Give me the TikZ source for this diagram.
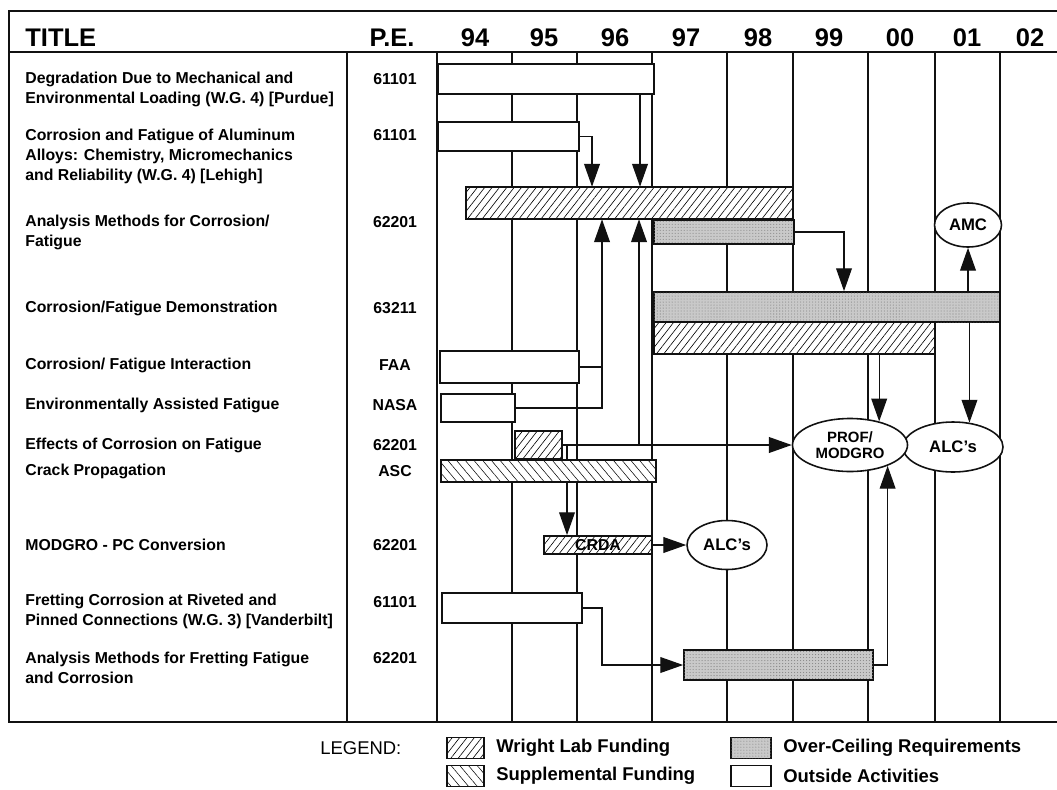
\documentclass[tikz,border=0pt]{standalone}
\usepackage{fontspec}
\setmainfont{Liberation Sans}
\usetikzlibrary{arrows.meta,shapes.geometric,patterns.meta}
\definecolor{inkblack}{HTML}{111111}
\definecolor{ceilgray}{HTML}{C9C9C9}

\begin{document}
\begin{tikzpicture}[x=0.2mm, y=-0.2mm,
  gridline/.style={inkblack, line width=0.8pt},
  timebar/.style={rectangle, draw=inkblack, line width=1pt, inner sep=0pt},
  outside/.style={timebar, fill=white},
  wlab/.style={timebar, preaction={fill=white}, pattern={Lines[angle=52,distance=3.3pt,line width=0.35pt]}},
  supp/.style={timebar, preaction={fill=white}, pattern={Lines[angle=-50,distance=3.8pt,line width=0.3pt]}},
  ceiling/.style={timebar, fill=ceilgray, postaction={pattern={Dots[distance=1.7pt,radius=0.3pt]}, pattern color=black!50}},
  bubble/.style={ellipse, draw=inkblack, line width=0.9pt, fill=white, inner sep=0pt, align=center, font=\fontsize{9.5}{9.5}\selectfont\bfseries},
  link/.style={inkblack, line width=0.7pt, -{Triangle[length=13pt,width=9pt]}},
  plainlink/.style={inkblack, line width=0.7pt},
  head/.style={inner sep=0pt, font=\fontsize{14.5}{16}\selectfont\bfseries},
  rowtext/.style={anchor=west, align=left, inner sep=0pt, font=\fontsize{9}{11.4}\selectfont\bfseries},
  petext/.style={inner sep=0pt, font=\fontsize{9}{11}\selectfont\bfseries},
  legtext/.style={anchor=west, inner sep=0pt, font=\fontsize{10.5}{12}\selectfont\bfseries}]
  \useasboundingbox (0,0) rectangle (1057,789);

  % frame and year grid
  \draw[inkblack, line width=1.2pt] (1057,11) -- (9,11) -- (9,722) -- (1057,722);
  \draw[inkblack, line width=1.2pt] (9,52) -- (1057,52);
  \draw[gridline] (347,52) -- (347,722) (437,52) -- (437,722) (512,52) -- (512,722)
    (577,52) -- (577,722) (652,52) -- (652,722) (727,52) -- (727,722)
    (793,52) -- (793,722) (868,52) -- (868,722) (935,52) -- (935,722)
    (1000,52) -- (1000,722);

  % header
  \node[head, anchor=west] (htitle) at (25,38) {TITLE};
  \node[head] (hpe) at (392,38) {P.E.};
  \node[head] (h94) at (475,38) {94};
  \node[head] (h95) at (544,38) {95};
  \node[head] (h96) at (615,38) {96};
  \node[head] (h97) at (686,38) {97};
  \node[head] (h98) at (758,38) {98};
  \node[head] (h99) at (829,38) {99};
  \node[head] (h00) at (900,38) {00};
  \node[head] (h01) at (967,38) {01};
  \node[head] (h02) at (1030,38) {02};

  % titles and program elements
  \node[rowtext] (t-deg) at (25,89) {Degradation Due to Mechanical and\\Environmental Loading (W.G. 4) [Purdue]};
  \node[rowtext] (t-alu) at (25,156) {Corrosion and Fatigue of Aluminum\\Alloys: Chemistry, Micromechanics\\and Reliability (W.G. 4) [Lehigh]};
  \node[rowtext] (t-anacf) at (25,232) {Analysis Methods for Corrosion/\\Fatigue};
  \node[rowtext] (t-demo) at (25,308) {Corrosion/Fatigue Demonstration};
  \node[rowtext] (t-faa) at (25,365) {Corrosion/ Fatigue Interaction};
  \node[rowtext] (t-nasa) at (25,405) {Environmentally Assisted Fatigue};
  \node[rowtext] (t-effect) at (25,445) {Effects of Corrosion on Fatigue};
  \node[rowtext] (t-crack) at (25,471) {Crack Propagation};
  \node[rowtext] (t-modgro) at (25,545) {MODGRO - PC Conversion};
  \node[rowtext] (t-fret) at (25,611) {Fretting Corrosion at Riveted and\\Pinned Connections (W.G. 3) [Vanderbilt]};
  \node[rowtext] (t-fretfat) at (25,668) {Analysis Methods for Fretting Fatigue\\and Corrosion};

  \node[petext] (p-deg) at (395,79) {61101};
  \node[petext] (p-alu) at (395,135) {61101};
  \node[petext] (p-anacf) at (395,222) {62201};
  \node[petext] (p-demo) at (395,308) {63211};
  \node[petext] (p-faa) at (395,365) {FAA};
  \node[petext] (p-nasa) at (395,405) {NASA};
  \node[petext] (p-effect) at (395,445) {62201};
  \node[petext] (p-crack) at (395,471) {ASC};
  \node[petext] (p-modgro) at (395,545) {62201};
  \node[petext] (p-fret) at (395,602) {61101};
  \node[petext] (p-fretfat) at (395,658) {62201};

  % schedule bars
  \node[outside, minimum width=43.2mm, minimum height=6mm] (deg) at (546,79) {};
  \node[outside, minimum width=28.2mm, minimum height=5.8mm] (alu) at (508.5,136.5) {};
  \node[wlab, minimum width=65.4mm, minimum height=6.4mm] (anacf) at (629.5,203) {};
  \node[ceiling, minimum width=28mm, minimum height=4.8mm] (anaoc) at (724,232) {};
  \node[ceiling, minimum width=69.2mm, minimum height=6mm] (demooc) at (827,307) {};
  \node[wlab, minimum width=56.2mm, minimum height=6.4mm] (demowl) at (794.5,338) {};
  \node[outside, minimum width=27.8mm, minimum height=6.4mm] (faa) at (509.5,367) {};
  \node[outside, minimum width=14.8mm, minimum height=5.6mm] (nasa) at (478,408) {};
  \node[wlab, minimum width=9.4mm, minimum height=5.6mm] (effect) at (538.5,445) {};
  \node[supp, minimum width=43mm, minimum height=4.4mm] (crack) at (548.5,471) {};
  \node[wlab, minimum width=21.6mm, minimum height=3.6mm, font=\fontsize{9}{9}\selectfont\bfseries] (crda) at (598,545) {CRDA};
  \node[outside, minimum width=28mm, minimum height=6mm] (fret) at (512,608) {};
  \node[ceiling, minimum width=37.8mm, minimum height=6mm] (fretoc) at (778.5,665) {};

  % transitions
  \node[bubble, minimum width=13.4mm, minimum height=8.8mm] (amc) at (968,225) {AMC};
  \node[bubble, minimum width=20mm, minimum height=10mm] (alcup) at (953,447) {ALC's};
  \node[bubble, minimum width=23mm, minimum height=10.6mm, font=\fontsize{8.5}{9}\selectfont\bfseries] (prof) at (850,445) {PROF/\\MODGRO};
  \node[bubble, minimum width=16mm, minimum height=9.8mm] (alclow) at (727,545) {ALC's};

  \draw[link] (alu.east) -| (592,0 |- anacf.north);
  \draw[link] (640,0 |- deg.south) -- (640,0 |- anacf.north);
  \draw[link] (nasa.east) -| (602,0 |- anacf.south);
  \draw[plainlink] (faa.east) -- (602,0 |- faa.east);
  \draw[link] (effect.east) -- (prof.west);
  \draw[link] (639,0 |- effect.east) -- (639,0 |- anacf.south);
  \draw[plainlink] (567,0 |- effect.east) -- (567,0 |- crack.north);
  \draw[link] (567,0 |- crack.south) -- (567,0 |- crda.north);
  \draw[link] (anaoc.east) -| (844,0 |- demooc.north);
  \draw[link] (amc.south |- demooc.north) -- (amc.south);
  \draw[link] (prof.39 |- demowl.south) -- (prof.39);
  \draw[link] (alcup.56 |- demooc.south) -- (alcup.56);
  \draw[link] (fretoc.east) -| (prof.-29);
  \draw[link] (crda.east) -- (alclow.west);
  \draw[link] (fret.east) -| (602,0 |- fretoc.west) -- (fretoc.west);

  % legend
  \node[legtext, font=\fontsize{10.5}{12}\selectfont] (legend) at (320,748) {LEGEND:};
  \node[wlab, line width=0.8pt, minimum width=7.4mm, minimum height=4.2mm] (lg-wlab) at (465.5,748) {};
  \node[legtext] (lt-wlab) at (496,748) {Wright Lab Funding};
  \node[supp, line width=0.8pt, minimum width=7.4mm, minimum height=4.2mm] (lg-supp) at (465.5,776) {};
  \node[legtext] (lt-supp) at (496,776) {Supplemental Funding};
  \node[ceiling, line width=0.8pt, minimum width=8mm, minimum height=4.2mm] (lg-ceil) at (751,748) {};
  \node[legtext] (lt-ceil) at (783,748) {Over-Ceiling Requirements};
  \node[outside, line width=0.8pt, minimum width=8mm, minimum height=4.2mm] (lg-out) at (751,776) {};
  \node[legtext] (lt-out) at (783,776) {Outside Activities};
\end{tikzpicture}
\end{document}
